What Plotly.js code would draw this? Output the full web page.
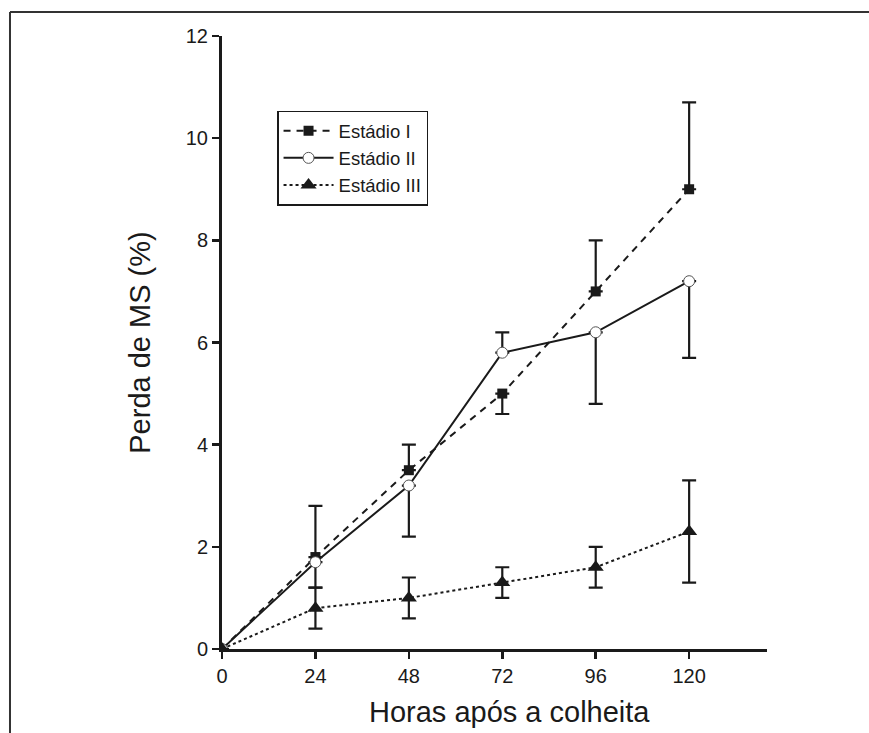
<!DOCTYPE html>
<html>
<head>
<meta charset="utf-8">
<script src="https://cdn.plot.ly/plotly-3.0.1.min.js"></script>
<style>
  html, body { margin: 0; padding: 0; background: #fff; }
  #chart { width: 869px; height: 733px; }
</style>
</head>
<body>
<div id="chart"></div>
<script>
// Hours after harvest
const horas = [0, 24, 48, 72, 96, 120];

// Dry-matter loss (%) per maturity stage
const estadioI   = [0, 1.8, 3.5, 5.0, 7.0, 9.0];
const estadioII  = [0, 1.7, 3.2, 5.8, 6.2, 7.2];
const estadioIII = [0, 0.8, 1.0, 1.3, 1.6, 2.3];

// Error bars (upper / lower arms)
const errIup   = [0, 1.0, 0.5, 0.0, 1.0, 1.7];
const errIdown = [0, 0.0, 0.0, 0.4, 0.0, 0.0];
const errIIup   = [0, 0.0, 0.0, 0.4, 0.0, 0.0];
const errIIdown = [0, 0.5, 1.0, 0.0, 1.4, 1.5];
const errIII    = [0, 0.4, 0.4, 0.3, 0.4, 1.0];

const nomes = ['Estádio I', 'Estádio II', 'Estádio III'];
const xTicks = [0, 24, 48, 72, 96, 120];
const yTicks = [0, 2, 4, 6, 8, 10, 12];
const tituloX = 'Horas após a colheita';
const tituloY = 'Perda de MS (%)';

const ink = '#1a1a1a';

function barras(up, down) {
  return {
    type: 'data', symmetric: false, array: up, arrayminus: down,
    color: ink, thickness: 2.2, width: 7
  };
}

const traces = [
  {
    x: horas, y: estadioI, name: nomes[0], type: 'scatter', mode: 'lines+markers',
    line: { color: ink, width: 2, dash: '7px,6px' },
    marker: { symbol: 'square', size: 10, color: ink },
    error_y: barras(errIup, errIdown)
  },
  {
    x: horas, y: estadioII, name: nomes[1], type: 'scatter', mode: 'lines+markers',
    line: { color: ink, width: 2 },
    marker: { symbol: 'circle', size: 11, color: '#fff', line: { color: '#555', width: 1 } },
    error_y: barras(errIIup, errIIdown)
  },
  {
    x: horas, y: estadioIII, name: nomes[2], type: 'scatter', mode: 'lines+markers',
    line: { color: ink, width: 2, dash: 'dot' },
    marker: { symbol: 'triangle-up', size: 14, color: ink },
    error_y: { type: 'data', array: errIII, color: ink, thickness: 2.2, width: 7 }
  }
];

const layout = {
  width: 869, height: 733,
  margin: { l: 222, r: 102, t: 36, b: 84 },
  paper_bgcolor: '#fff', plot_bgcolor: '#fff',
  font: { family: 'Liberation Sans, Arial, sans-serif', color: ink },
  showlegend: true,
  legend: {
    x: 0.101, y: 0.878, xanchor: 'left', yanchor: 'top',
    bgcolor: '#fff', bordercolor: ink, borderwidth: 1.5,
    font: { size: 18.5, color: ink },
    tracegroupgap: 0, itemwidth: 50
  },
  xaxis: {
    range: [0, 140], tickvals: xTicks, ticktext: xTicks.map(String),
    showgrid: false, zeroline: false,
    showline: true, linecolor: ink, linewidth: 3,
    ticks: 'outside', ticklen: 7, tickwidth: 2.5, tickcolor: ink,
    tickfont: { size: 20 }
  },
  yaxis: {
    range: [0, 12], tickvals: yTicks, ticktext: yTicks.map(String),
    showgrid: false, zeroline: false,
    showline: true, linecolor: ink, linewidth: 3,
    ticks: 'outside', ticklen: 7, tickwidth: 2.5, tickcolor: ink,
    tickfont: { size: 20 },
    title: { text: tituloY, font: { size: 29 }, standoff: 27 }
  },
  annotations: [
    { text: tituloX, xref: 'paper', yref: 'paper', x: 0.527, y: -0.1028,
      xanchor: 'center', yanchor: 'middle', showarrow: false,
      font: { size: 29, color: ink } }
  ],
  shapes: [
    { type: 'line', xref: 'paper', yref: 'paper', x0: -0.389, x1: 1.2, y0: 1.039, y1: 1.039,
      line: { color: '#333', width: 2 } },
    { type: 'line', xref: 'paper', yref: 'paper', x0: -0.389, x1: -0.389, y0: 1.039, y1: -0.15,
      line: { color: '#333', width: 2 } }
  ]
};

Plotly.newPlot('chart', traces, layout, { displayModeBar: false, staticPlot: true });
</script>
</body>
</html>
